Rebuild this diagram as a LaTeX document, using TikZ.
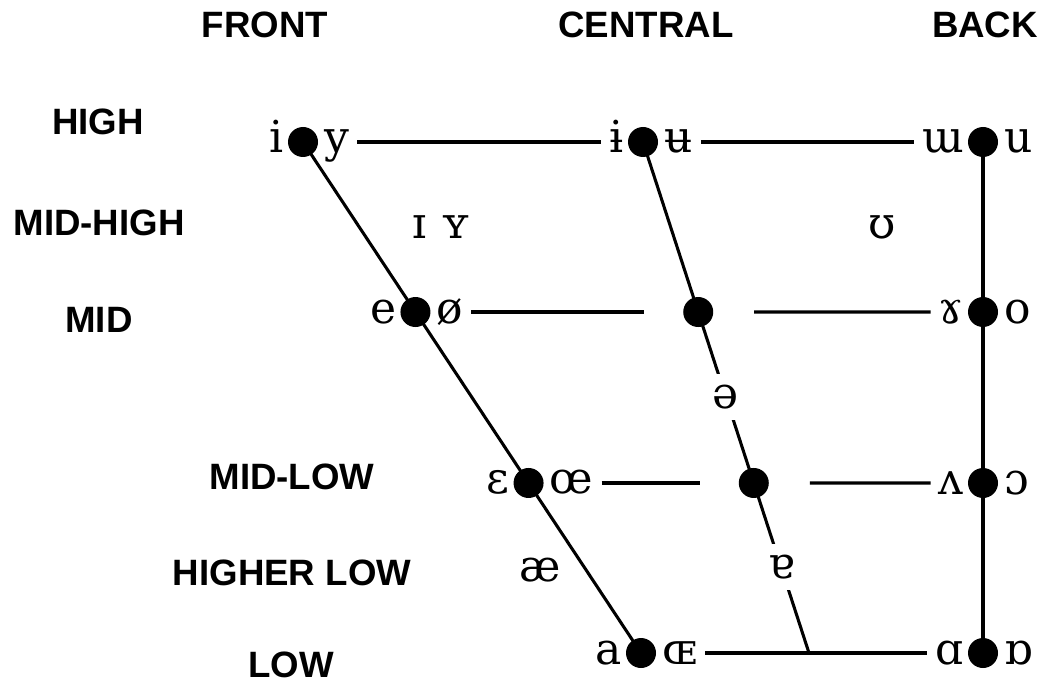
\documentclass[tikz,border=0pt]{standalone}
\usepackage{fontspec}
\setmainfont{DejaVu Serif}
\newfontfamily\labfont{Liberation Sans}
\usetikzlibrary{calc}
\begin{document}
\begin{tikzpicture}[x=0.75pt,y=-0.75pt,
  lab/.style={font=\labfont\bfseries\fontsize{27.5}{32}\selectfont, inner sep=0pt},
  vl/.style={font=\fontsize{33}{40}\selectfont, inner sep=0pt},
  vdot/.style={circle, fill=black, minimum size=22.5pt, inner sep=0pt},
  mask/.style={vl, fill=white, inner xsep=3pt, inner ysep=8pt},
  ln/.style={line width=2.3pt},
  gapl/.style={ln, shorten <=6pt, shorten >=6pt}
]
\useasboundingbox (0,0) rectangle (1042,684);

% column and row labels
\node[lab] (front) at (265,25) {FRONT};
\node[lab] (central) at (646,25) {CENTRAL};
\node[lab] (back) at (985,25) {BACK};
\node[lab] (high) at (98,122) {HIGH};
\node[lab] (midhigh) at (99,223) {MID-HIGH};
\node[lab] (mid) at (99,320) {MID};
\node[lab] (midlow) at (292,477) {MID-LOW};
\node[lab] (higherlow) at (292,573) {HIGHER LOW};
\node[lab] (low) at (291,665) {LOW};

% key coordinates
\coordinate (hfc) at (303,142);
\coordinate (lfc) at (641,653);
\coordinate (hcc) at (643,142);
\coordinate (lc) at (809,653);

% lines (drawn first)
\draw[ln] (hfc) -- (lfc);
\draw[ln] (hcc) -- (lc);
\draw[ln] (983,142) coordinate (hbc) -- (983,653) coordinate (lbc);

% dots
\node[vdot] (hf) at (hfc) {};
\node[vdot] (hc) at (hcc) {};
\node[vdot] (hb) at (hbc) {};
\node[vdot] (mf) at ($(hfc)!0.3327!(lfc)$) {};
\node[vdot] (mc) at ($(hcc)!0.3327!(lc)$) {};
\node[vdot] (mb) at (983,312) {};
\node[vdot] (mlf) at ($(hfc)!0.6673!(lfc)$) {};
\node[vdot] (mlc) at ($(hcc)!0.6673!(lc)$) {};
\node[vdot] (mlb) at (983,483) {};
\node[vdot] (lf) at (lfc) {};
\node[vdot] (lb) at (lbc) {};

% masked vowels on the central line
\node[mask] (schwa) at ($(hcc)!0.499!(lc)$) {ə};
\node[mask] (turna) at ($(hcc)!0.832!(lc)$) {ɐ};

% vowel letters beside the dots
\node[vl, anchor=base east] (i) at ($(hf)+(-19,11)$) {i};
\node[vl, anchor=base west] (y) at ($(hf)+(21,11)$) {y};
\node[vl, anchor=base east] (ibar) at ($(hc)+(-19,11)$) {ɨ};
\node[vl, anchor=base west] (ubar) at ($(hc)+(21,11)$) {ʉ};
\node[vl, anchor=base east] (turnm) at ($(hb)+(-19,11)$) {ɯ};
\node[vl, anchor=base west] (u) at ($(hb)+(21,11)$) {u};

\node[vl, anchor=base east] (e) at ($(mf)+(-19,11)$) {e};
\node[vl, anchor=base west] (oslash) at ($(mf)+(21,11)$) {ø};
\node[vl, anchor=base east] (rams) at ($(mb)+(-19,11)$) {ɤ};
\node[vl, anchor=base west] (o) at ($(mb)+(21,11)$) {o};

\node[vl, anchor=base east] (eps) at ($(mlf)+(-19,11)$) {ɛ};
\node[vl, anchor=base west] (oe) at ($(mlf)+(21,11)$) {œ};
\node[vl, anchor=base east] (turnv) at ($(mlb)+(-19,11)$) {ʌ};
\node[vl, anchor=base west] (openo) at ($(mlb)+(21,11)$) {ɔ};

\node[vl, anchor=base east] (a) at ($(lf)+(-19,11)$) {a};
\node[vl, anchor=base west] (OE) at ($(lf)+(21,11)$) {ɶ};
\node[vl, anchor=base east] (scripta) at ($(lb)+(-19,11)$) {ɑ};
\node[vl, anchor=base west] (turnscripta) at ($(lb)+(21,11)$) {ɒ};

% free vowels
\node[vl] (smalli) at (420,227) {ɪ};
\node[vl] (smally) at (456,227) {ʏ};
\node[vl] (upsilon) at (882,227) {ʊ};
\node[vl] (ash) at (540,570) {æ};

% horizontal lines
\draw[gapl] (y.east |- hf) -- (ibar.west |- hc);
\draw[gapl] (ubar.east |- hc) -- (turnm.west |- hb);
\draw[ln, shorten <=6pt] (oslash.east |- mf) -- ($(mc)+(-54,0)$);
\draw[ln, shorten >=6pt] ($(mc)+(56,0)$) -- (rams.west |- mb);
\draw[ln, shorten <=6pt] (oe.east |- mlf) -- ($(mlc)+(-54,0)$);
\draw[ln, shorten >=6pt] ($(mlc)+(56,0)$) -- (turnv.west |- mlb);
\draw[gapl] (OE.east |- lf) -- (scripta.west |- lb);
\end{tikzpicture}
\end{document}
